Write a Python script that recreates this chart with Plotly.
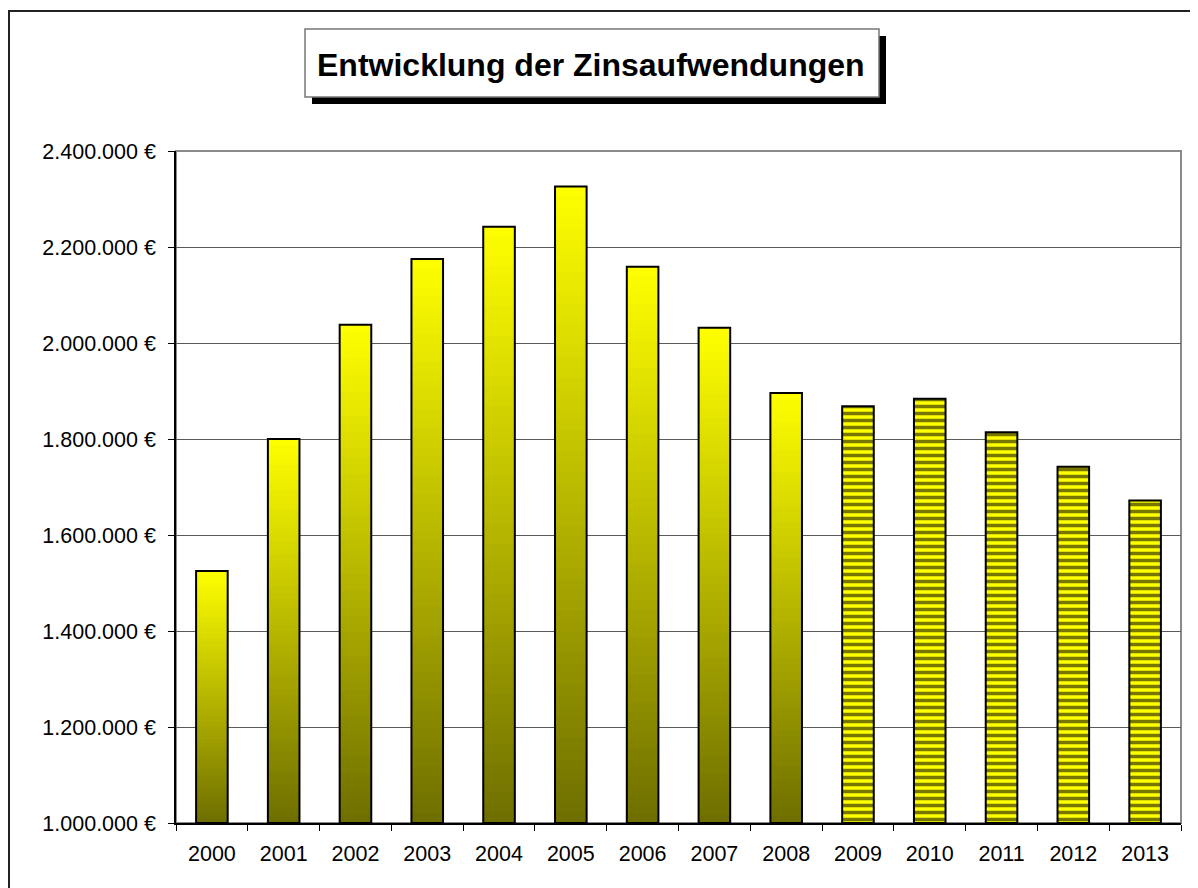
import plotly.graph_objects as go

years = ["2000", "2001", "2002", "2003", "2004", "2005", "2006",
         "2007", "2008", "2009", "2010", "2011", "2012", "2013"]
zins = [1525000, 1800000, 2038000, 2175000, 2242000, 2326000, 2159000,
        2032000, 1896000, 1868000, 1884000, 1814000, 1742000, 1672000]
n_ist = 9  # 2000-2008 actual values, 2009-2013 planned (striped)

BASE = 1000000
N_SLICES = 60
TOP = (255, 255, 0)
BOTTOM = (110, 110, 0)
FONT = "Arial, Liberation Sans, sans-serif"

ist_years, ist_vals = years[:n_ist], zins[:n_ist]
plan_years, plan_vals = years[n_ist:], zins[n_ist:]

fig = go.Figure()

# gradient fill: every bar is split in slices going from olive (bottom) to yellow (top)
for k in range(N_SLICES):
    t = (k + 0.5) / N_SLICES
    col = "rgb({},{},{})".format(*[round(b + (a - b) * t) for a, b in zip(TOP, BOTTOM)])
    heights = [(v - BASE) / N_SLICES for v in ist_vals]
    fig.add_trace(go.Bar(
        x=ist_years, y=[h * 1.6 if k < N_SLICES - 1 else h for h in heights],
        base=[BASE + h * k for h in heights],
        width=0.44, marker=dict(color=col, line=dict(width=0)),
        hoverinfo="skip", showlegend=False))

# outline of the actual bars
fig.add_trace(go.Bar(
    x=ist_years, y=[v - BASE for v in ist_vals], base=BASE, width=0.44,
    marker=dict(color="rgba(0,0,0,0)", line=dict(color="black", width=2)),
    showlegend=False))

# planned years: striped
fig.add_trace(go.Bar(
    x=plan_years, y=[v - BASE for v in plan_vals], base=BASE, width=0.44,
    marker=dict(color="#FFFF00", line=dict(color="black", width=2),
                pattern=dict(shape="-", fgcolor="#777700", bgcolor="#FFFF00",
                             fgopacity=1, size=7, solidity=0.5)),
    showlegend=False))

# page body has an 8px margin, so the figure is 8px smaller and margins shifted
fig.update_layout(
    width=1190, height=880,
    margin=dict(l=168, r=17, t=143, b=65),
    paper_bgcolor="white", plot_bgcolor="white",
    barmode="overlay", separators=",.",
    font=dict(family=FONT, size=21.5, color="black"),
)

fig.update_xaxes(
    type="category", categoryorder="array", categoryarray=years,
    range=[-0.5, 13.5], showgrid=False,
    showline=True, linecolor="black", linewidth=1.5,
    ticks="outside", tickson="boundaries", ticklen=6, tickcolor="black",
    ticklabelstandoff=10, tickfont=dict(size=21.5),
)
fig.update_yaxes(
    range=[1000000, 2400000], dtick=200000, tickformat=",.0f", ticksuffix=" €",
    showgrid=True, gridcolor="#5a5a5a", gridwidth=1,
    showline=True, linecolor="black", linewidth=1.5,
    ticks="outside", ticklen=6, tickcolor="black",
    ticklabelstandoff=8, tickfont=dict(size=21.5), zeroline=False,
)


# screen pixel -> paper coords (plot area spans x 176..1181, y 151..823 on screen)
def px(x):
    return (x - 176) / 1005


def py(y):
    return (823 - y) / 672


shapes = [
    # plot area border (top / right grey)
    dict(type="rect", xref="paper", yref="paper", x0=0, x1=1, y0=0, y1=1,
         line=dict(color="#8a8a8a", width=2), layer="below"),
    # outer chart frame
    dict(type="rect", xref="paper", yref="paper", x0=px(9), x1=px(1215), y0=py(905), y1=py(11),
         line=dict(color="#222222", width=2)),
    # title box shadow + box
    dict(type="rect", xref="paper", yref="paper", x0=px(312), x1=px(886), y0=py(104), y1=py(36),
         fillcolor="black", line=dict(width=0)),
    dict(type="rect", xref="paper", yref="paper", x0=px(305), x1=px(879), y0=py(97), y1=py(29),
         fillcolor="white", line=dict(color="#777777", width=1.5)),
]
fig.update_layout(shapes=shapes)

fig.add_annotation(
    xref="paper", yref="paper", x=px(591), y=py(65), showarrow=False,
    xanchor="center", yanchor="middle",
    text="<b>Entwicklung der Zinsaufwendungen</b>",
    font=dict(family=FONT, size=32, color="black"),
)

fig.write_html("out.html")
